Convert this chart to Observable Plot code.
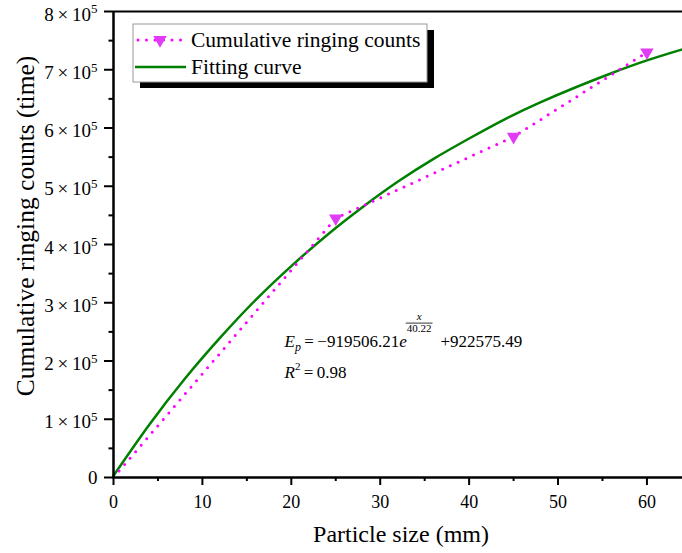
<!DOCTYPE html>
<html>
<head>
<meta charset="utf-8">
<script src="https://cdn.jsdelivr.net/npm/d3@7"></script>
<script src="https://cdn.jsdelivr.net/npm/@observablehq/plot@0.6"></script>
<style>
  body { margin: 0; background: #fff; }
  #chart svg { font-family: "Liberation Serif", "Times New Roman", serif; }
</style>
</head>
<body>
<div id="chart"></div>
<script>
// ---- data ----
const particleSize = [0, 25, 45, 60];
const ringingCounts = [0, 445000, 585000, 730000];

const fitSize = [0, 4, 8, 12, 16, 20, 24, 28, 32, 36, 40, 44, 48, 52, 56, 60, 64];
const fitCounts = [3000, 90000, 169000, 240000, 305000, 363000, 416000, 464000, 508000,
                   547000, 582000, 615000, 644000, 670000, 694000, 716000, 735000];

const xTicks = [0, 10, 20, 30, 40, 50, 60];
const xMinorTicks = [5, 15, 25, 35, 45, 55];
const yTicks = [0, 100000, 200000, 300000, 400000, 500000, 600000, 700000, 800000];
const yMinorTicks = [50000, 150000, 250000, 350000, 450000, 550000, 650000, 750000];
const yTickMantissa = ["0", "1", "2", "3", "4", "5", "6", "7", "8"];
const yTickExponent = "5";

const xTitle = "Particle size (mm)";
const yTitle = "Cumulative ringing counts (time)";
const seriesNames = ["Cumulative ringing counts", "Fitting curve"];

const measured = particleSize.map((x, i) => ({x, y: ringingCounts[i]}));
const fitted = fitSize.map((x, i) => ({x, y: fitCounts[i]}));

const SERIF = '"Liberation Serif", "Times New Roman", serif';
const MAGENTA = "#ff00ff";
const MARKER = "#e03cf5";
const GREEN = "#008000";

const yFmt = d => { const i = yTicks.indexOf(d); return i === 0 ? yTickMantissa[0] : yTickMantissa[i] + "\u2009×\u200910"; };

const plot = Plot.plot({
  width: 682,
  height: 553,
  marginLeft: 113,
  marginRight: 0,
  marginTop: 11,
  marginBottom: 76,
  x: {domain: [0, 64]},
  y: {domain: [0, 800000]},
  style: {fontFamily: SERIF, fontSize: "18px", color: "#000", background: "#fff", overflow: "visible"},
  marks: [
    Plot.line(fitted, {x: "x", y: "y", stroke: GREEN, strokeWidth: 2.5, curve: "natural"}),
    Plot.line(measured, {x: "x", y: "y", stroke: MAGENTA, strokeWidth: 3,
      strokeDasharray: "0 8.5", strokeLinecap: "round"}),
    Plot.dot(measured.filter(d => d.x > 0), {x: "x", y: "y", symbol: "triangle", rotate: 180,
      r: 5, fill: MARKER, stroke: "none"}),
    Plot.axisX({ticks: xTicks, tickSize: 8, tickPadding: 10, strokeWidth: 2,
      tickFormat: d => String(d), fontSize: 18, label: null}),
    Plot.axisX({ticks: xMinorTicks, tickSize: 4, strokeWidth: 2, text: null, label: null}),
    Plot.axisY({ticks: yTicks, tickSize: 9, strokeWidth: 2, text: null, label: null}),
    Plot.axisY({ticks: yTicks.slice(0, 1), tickSize: 0, tickPadding: 16, fontSize: 19,
      tickFormat: yFmt, label: null}),
    Plot.axisY({ticks: yTicks.slice(1), tickSize: 0, tickPadding: 16, fontSize: 19, dy: 3,
      tickFormat: yFmt, label: null}),
    Plot.axisY({ticks: yMinorTicks, tickSize: 4.5, strokeWidth: 2, text: null, label: null}),
    Plot.ruleX([0], {stroke: "#000", strokeWidth: 2.5}),
    Plot.ruleY([0], {stroke: "#000", strokeWidth: 2.5}),
    Plot.ruleY([800000], {stroke: "#000", strokeWidth: 2})
  ]
});

document.getElementById("chart").appendChild(plot);

const svg = d3.select(plot);
const xs = plot.scale("x"), ys = plot.scale("y");

// superscript exponents on y tick labels
svg.selectAll("text").each(function () {
  const t = d3.select(this);
  const s = t.text();
  if (/×\u200910$/.test(s)) {
    t.append("tspan").attr("font-size", 13).attr("dy", "-0.55em").text(yTickExponent);
  }
});

const g = svg.append("g").attr("font-family", SERIF).attr("fill", "#000")
  .attr("text-anchor", "start");

// axis titles
g.append("text")
  .attr("x", 401).attr("y", 542)
  .attr("text-anchor", "middle").attr("font-size", 24)
  .text(xTitle);
g.append("text")
  .attr("transform", "translate(34,226) rotate(-90)")
  .attr("text-anchor", "middle").attr("font-size", 25.5)
  .text(yTitle);

// legend
const lg = g.append("g");
lg.append("rect").attr("x", 140).attr("y", 30).attr("width", 294).attr("height", 58).attr("fill", "#000");
lg.append("rect").attr("x", 133).attr("y", 24).attr("width", 294).attr("height", 58)
  .attr("fill", "#fff").attr("stroke", "#999").attr("stroke-width", 1);
lg.append("line").attr("x1", 138).attr("x2", 183).attr("y1", 40).attr("y2", 40)
  .attr("stroke", MAGENTA).attr("stroke-width", 3)
  .attr("stroke-dasharray", "0 8.5").attr("stroke-linecap", "round");
lg.append("path")
  .attr("d", d3.symbol(d3.symbolTriangle, 5 * 5 * Math.PI)())
  .attr("transform", "translate(160,40) rotate(180)")
  .attr("fill", MARKER);
lg.append("line").attr("x1", 135).attr("x2", 186).attr("y1", 67).attr("y2", 67)
  .attr("stroke", GREEN).attr("stroke-width", 2.5);
lg.append("text").attr("x", 191).attr("y", 47).attr("font-size", 21.5).text(seriesNames[0]);
lg.append("text").attr("x", 191).attr("y", 74).attr("font-size", 21.5).text(seriesNames[1]);

// fitted equation annotation (anchored in data coordinates)
const ax = xs.apply(19.3), ay = ys.apply(223000);
const eq = g.append("text").attr("x", ax).attr("y", ay).attr("font-size", 17);
eq.append("tspan").attr("font-style", "italic").text("E");
eq.append("tspan").attr("font-style", "italic").attr("font-size", 12).attr("dy", 4).text("p");
eq.append("tspan").attr("dy", -4).text("\u2009=\u2009−919506.21");
eq.append("tspan").attr("font-style", "italic").text("e");
const eqEnd = ax + eq.node().getComputedTextLength();
const frac = g.append("g").attr("font-size", 11).attr("text-anchor", "middle");
const denom = frac.append("text").attr("x", 0).attr("y", ay - 15).text("40.22");
const fw = denom.node().getComputedTextLength() + 2;
const fx = eqEnd - 1 + fw / 2;
denom.attr("x", fx);
frac.append("text").attr("x", fx).attr("y", ay - 27).attr("font-style", "italic").text("x");
frac.append("line").attr("x1", fx - fw / 2).attr("x2", fx + fw / 2)
  .attr("y1", ay - 24).attr("y2", ay - 24).attr("stroke", "#000").attr("stroke-width", 0.8);
g.append("text").attr("x", fx + fw / 2 + 8).attr("y", ay).attr("font-size", 17).text("+922575.49");

const r2 = g.append("text").attr("x", ax).attr("y", ay + 31).attr("font-size", 17);
r2.append("tspan").attr("font-style", "italic").text("R");
r2.append("tspan").attr("font-size", 11).attr("dy", -8).text("2");
r2.append("tspan").attr("dy", 8).text("\u2009=\u20090.98");
</script>
</body>
</html>
